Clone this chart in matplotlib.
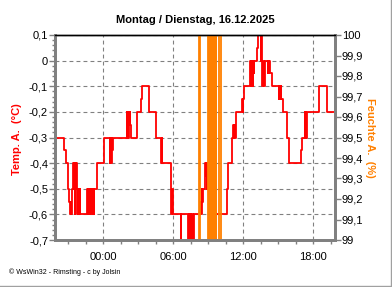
import matplotlib
matplotlib.use('Agg')
import matplotlib.pyplot as plt
from matplotlib.ticker import FixedLocator, MultipleLocator, FuncFormatter
from matplotlib.lines import Line2D

# Zeit in Stunden relativ zu 16.12. 00:00 (negativ = Vortag)
temp_zeit = [-4.13, -3.33, -3.22, -3.02, -2.94, -2.88, -2.80, -2.75, -2.66,
             -2.55, -2.51, -2.47, -2.43, -2.39, -2.35, -2.31, -2.27,
             -2.23, -2.19, -2.15, -2.11, -2.07, -2.03, -1.99,
             -1.37, -1.33, -1.28, -1.24, -1.19, -1.15, -1.11, -1.07,
             -0.94, -0.90, -0.86, -0.82, -0.78, -0.57, 0.06,
             0.57, 0.62, 0.66, 0.72, 0.78, 0.82,
             2.01, 2.05, 2.09, 2.13, 2.17, 2.21, 2.26, 2.30, 2.35,
             2.86, 3.21, 3.29, 3.94, 4.49, 4.95, 5.00, 5.05,
             5.78, 5.82, 5.86, 5.90, 5.94, 5.99,
             6.63, 6.70, 7.29, 7.33, 7.40, 7.46, 7.52, 7.60, 7.69, 7.77,
             8.29, 8.36, 8.43, 8.50, 8.55, 8.71, 8.76, 8.80, 8.84, 8.88, 8.92, 8.96, 9.05,
             9.35, 10.58, 10.66, 11.01, 11.14, 11.19, 11.24, 11.29, 11.42,
             11.91, 11.96, 12.00, 12.04,
             12.62, 12.66, 12.70, 12.74, 12.78, 12.83, 12.87, 12.91, 12.95, 13.15, 13.26,
             13.50, 13.54, 13.58, 13.62, 13.66, 13.70, 13.74, 13.78, 13.84,
             14.12, 14.16, 14.20, 14.25, 14.30, 14.43,
             15.06, 15.10, 15.15, 15.20, 15.25, 15.40, 15.72, 15.94, 16.95, 17.03,
             17.28, 17.31, 17.35, 17.38, 17.43, 18.49, 19.20, 19.87]
temp = [-0.30, -0.35, -0.40, -0.50, -0.55, -0.60, -0.55, -0.60, -0.50,
        -0.40, -0.50, -0.40, -0.60, -0.40, -0.50, -0.40, -0.50,
        -0.60, -0.50, -0.60, -0.50, -0.60, -0.50, -0.60,
        -0.50, -0.60, -0.50, -0.60, -0.50, -0.60, -0.50, -0.60,
        -0.50, -0.60, -0.50, -0.60, -0.50, -0.40, -0.30,
        -0.40, -0.30, -0.40, -0.30, -0.35, -0.30,
        -0.20, -0.30, -0.20, -0.30, -0.20, -0.25, -0.20, -0.25, -0.30,
        -0.20, -0.15, -0.10, -0.20, -0.30, -0.40, -0.30, -0.40,
        -0.50, -0.60, -0.50, -0.60, -0.50, -0.60,
        -0.70, -0.60, -0.70, -0.60, -0.70, -0.60, -0.70, -0.60, -0.70, -0.60,
        -0.55, -0.60, -0.50, -0.55, -0.50, -0.45, -0.40, -0.45, -0.40, -0.50, -0.40, -0.50, -0.70,
        -0.60, -0.50, -0.40, -0.30, -0.25, -0.30, -0.25, -0.30, -0.20,
        -0.15, -0.20, -0.15, -0.10,
        0.00, -0.10, 0.00, -0.05, 0.00, -0.10, 0.00, -0.05, 0.00, 0.05, 0.10,
        0.00, 0.10, 0.00, -0.10, 0.00, -0.10, 0.00, -0.10, 0.00,
        -0.05, 0.00, -0.05, 0.00, -0.05, -0.10,
        -0.15, -0.10, -0.15, -0.10, -0.15, -0.20, -0.30, -0.40, -0.35, -0.30,
        -0.20, -0.30, -0.20, -0.30, -0.20, -0.10, -0.20, -0.20]

feuchte_zeit = [-4.13, 8.22, 8.25, 8.30,
                9.00, 9.04, 9.08, 9.12, 9.16, 9.20, 9.24, 9.28, 9.32,
                9.36, 9.40, 9.44, 9.48, 9.52, 9.56, 9.60, 9.64, 9.68,
                9.90, 10.14, 19.87]
feuchte = [100, 99.5, 99, 100,
           99, 100, 99, 100, 99, 100, 99, 100, 99,
           100, 99, 100, 99, 100, 99, 100, 99, 100,
           99, 100, 100]

x_ticks = [0, 6, 12, 18]
x_labels = ['00:00', '06:00', '12:00', '18:00']

plt.rcParams['font.family'] = ['Liberation Sans', 'DejaVu Sans']

grau = '#808080'
rot = '#ff0000'
orange = '#ff8000'

fig = plt.figure(figsize=(3.92, 2.87), dpi=100)
ax = fig.add_axes([55/392, 1-240/287, 280/392, 205/287])
ax.step(temp_zeit, temp, where='post', color=rot, lw=1.3)
ax.set_xlim(-4.13, 19.87)
ax.set_ylim(-0.7, 0.1)

ax2 = ax.twinx()
ax2.step(feuchte_zeit, feuchte, where='post', color=orange, lw=1.3)
ax2.set_ylim(99, 100)

def komma(v, pos):
    s = f"{v:.1f}".replace('.', ',')
    if s.endswith(',0'):
        s = s[:-2]
    if s == '-0':
        s = '0'
    return s

ax.yaxis.set_major_locator(MultipleLocator(0.1))
ax.yaxis.set_minor_locator(MultipleLocator(0.02))
ax.yaxis.set_major_formatter(FuncFormatter(komma))
ax2.yaxis.set_major_locator(MultipleLocator(0.1))
ax2.yaxis.set_major_formatter(FuncFormatter(komma))

ax.xaxis.set_major_locator(FixedLocator(x_ticks))
ax.set_xticklabels(x_labels)
ax.xaxis.set_minor_locator(MultipleLocator(1.5))

ax.tick_params(axis='y', which='major', length=4, width=1, color=grau, labelsize=8, pad=1)
ax.tick_params(axis='y', which='minor', length=2.5, width=1, color=grau)
ax.tick_params(axis='x', which='both', length=3, width=1, color=grau, labelsize=8, pad=6)
ax2.tick_params(axis='y', which='major', length=4, width=1, color=grau, labelsize=8, pad=1)

ax.set_axisbelow(True)
ax.grid(axis='y', which='major', ls=(0, (3.5, 2.8)), color=grau, lw=0.8)
ax.grid(axis='x', which='major', ls=(0, (3.5, 2.8)), color=grau, lw=0.8)

for a in (ax, ax2):
    for s in ('left', 'bottom', 'right'):
        a.spines[s].set_color(grau)
        a.spines[s].set_linewidth(2)
    a.spines['top'].set_color('black')
    a.spines['top'].set_linewidth(1)

ax.set_ylabel('Temp. A.  (°C)', color=rot, fontweight='bold', fontsize=8,
              ha='center', va='center')
ax.yaxis.set_label_coords(-0.136, 0.49)
ax2.set_ylabel('Feuchte A.  (%)', color=orange, fontweight='bold', fontsize=8,
               rotation=270, ha='center', va='center')
ax2.yaxis.set_label_coords(1.125, 0.5)

fig.text(195/392, 1-20/287, 'Montag / Dienstag, 16.12.2025', ha='center', va='center',
         fontsize=8, fontweight='bold')
fig.text(9/392, 1-272/287, '© WsWin32 - Rimsting - c by Jolsin', ha='left', va='center',
         fontsize=5)

# Rahmen rechts und unten
fig.add_artist(Line2D([390.5/392, 390.5/392], [1-285.5/287, 1], color='#a0a0a0', lw=1))
fig.add_artist(Line2D([0, 390.5/392], [1-285.5/287, 1-285.5/287], color='#a0a0a0', lw=1))

plt.savefig('out.png', dpi=100)
